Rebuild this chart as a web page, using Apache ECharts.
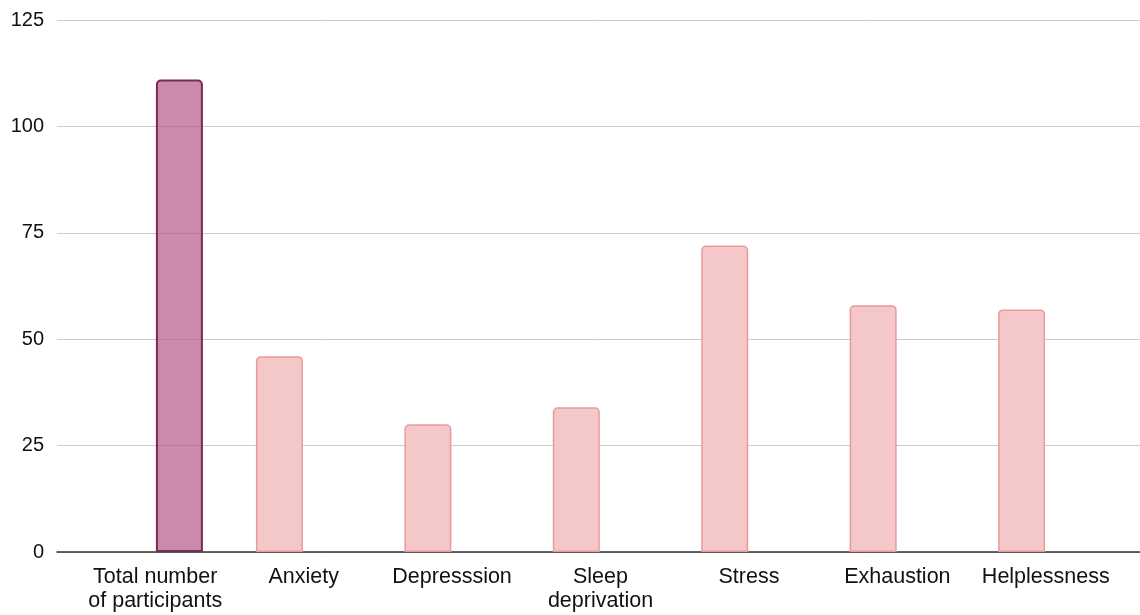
<!DOCTYPE html>
<html>
<head>
<meta charset="utf-8">
<script src="https://cdn.jsdelivr.net/npm/echarts@6/dist/echarts.min.js"></script>
<style>
  html, body { margin: 0; padding: 0; background: #ffffff; }
  #chart { width: 1140px; height: 615px; }
</style>
</head>
<body>
<div id="chart"></div>
<script>
// Categories along the x axis
const categories = [
  'Total number\nof participants',
  'Anxiety',
  'Depresssion',
  'Sleep\ndeprivation',
  'Stress',
  'Exhaustion',
  'Helplessness'
];
// Number of participants reporting each symptom
const symptomCounts = ['-', 46, 30, 34, 72, 58, 57];
// Total participant count (first category only)
const totalCounts = [111, '-', '-', '-', '-', '-', '-'];
// Y axis scale
const yMin = 0;
const yMax = 125;
const yStep = 25;

const FONT = '"Liberation Sans", Arial, sans-serif';
const chart = echarts.init(document.getElementById('chart'), null, { renderer: 'canvas' });

chart.setOption({
  animation: false,
  backgroundColor: '#ffffff',
  grid: [
    // full-width grid carries the value scale and gridlines
    { left: 57, right: 0, top: 20, bottom: 63 },
    // inner grid holds the category bands and bars
    { left: 81, right: 20, top: 20, bottom: 63 }
  ],
  xAxis: [
    {
      gridIndex: 0, type: 'category', data: [''],
      axisLine: { show: true, lineStyle: { color: '#333333', width: 1.5 } },
      axisTick: { show: false }, axisLabel: { show: false }
    },
    {
      gridIndex: 1, type: 'category', data: categories,
      axisLine: { show: false }, axisTick: { show: false },
      axisLabel: {
        color: '#111111', fontFamily: FONT, fontSize: 21.5, lineHeight: 24,
        margin: 13, interval: 0
      }
    }
  ],
  yAxis: [
    {
      gridIndex: 0, type: 'value', min: yMin, max: yMax, interval: yStep,
      axisLine: { show: false }, axisTick: { show: false },
      splitLine: { lineStyle: { color: '#cccccc', width: 1 } },
      axisLabel: { color: '#111111', fontFamily: FONT, fontSize: 20, margin: 13 }
    },
    {
      gridIndex: 1, type: 'value', min: yMin, max: yMax, interval: yStep,
      show: false, splitLine: { show: false }
    }
  ],
  series: [
    {
      type: 'bar', xAxisIndex: 1, yAxisIndex: 1,
      data: symptomCounts,
      barWidth: 47, barGap: '3%',
      itemStyle: {
        color: '#f4c7c8', borderColor: '#e99a9c', borderWidth: 1.5,
        borderRadius: [4, 4, 0, 0]
      }
    },
    {
      type: 'bar', xAxisIndex: 1, yAxisIndex: 1,
      data: totalCounts,
      barWidth: 47, barGap: '3%',
      itemStyle: {
        color: 'rgba(176, 82, 132, 0.68)', borderColor: '#7a2a54', borderWidth: 2,
        borderRadius: [4, 4, 0, 0]
      },
      z: 3
    }
  ]
});
</script>
</body>
</html>
